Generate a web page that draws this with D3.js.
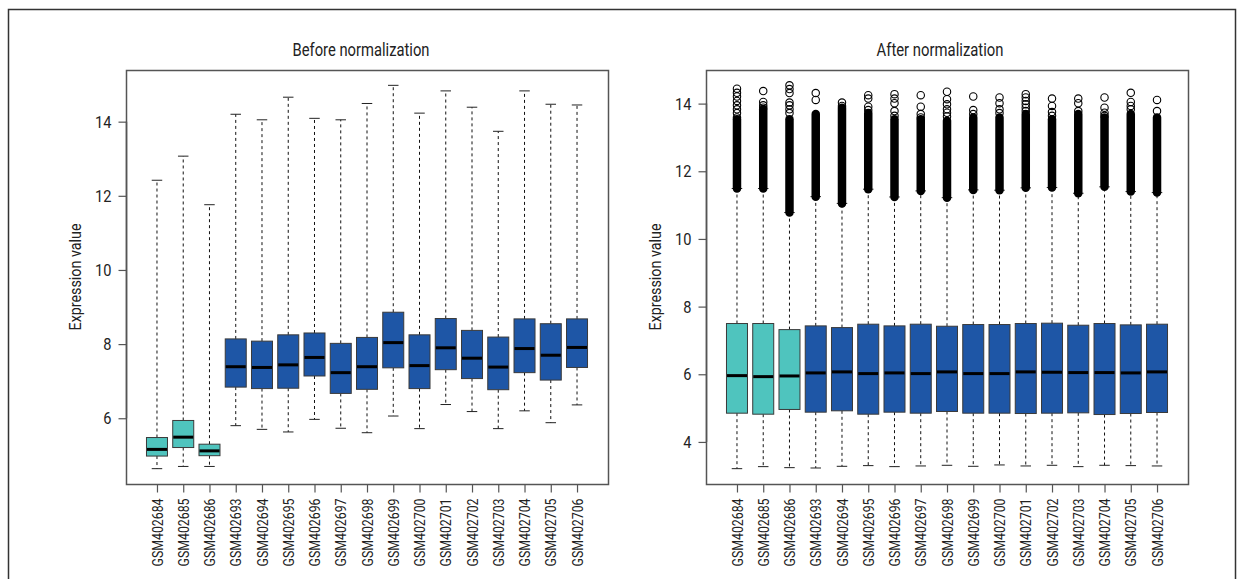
<!DOCTYPE html>
<html>
<head>
<meta charset="utf-8">
<script src="https://cdn.jsdelivr.net/npm/d3@7"></script>
<style>
  html, body { margin: 0; padding: 0; background: #fff; }
  svg { display: block; }
  text { font-family: "Roboto", "Liberation Sans", sans-serif; fill: #222; }
</style>
</head>
<body>
<svg id="chart" width="1244" height="579"></svg>
<script>
// ---------- data ----------
const samples = ["GSM402684","GSM402685","GSM402686","GSM402693","GSM402694","GSM402695","GSM402696","GSM402697","GSM402698","GSM402699","GSM402700","GSM402701","GSM402702","GSM402703","GSM402704","GSM402705","GSM402706"];
const groups = ["A","A","A","B","B","B","B","B","B","B","B","B","B","B","B","B","B"];
const yTicksBefore = [6, 8, 10, 12, 14];
const yTicksAfter = [4, 6, 8, 10, 12, 14];

// Before normalization
const beforeLower  = [4.64,4.70,4.70,5.80,5.70,5.63,5.97,5.73,5.61,6.06,5.72,6.37,6.18,5.72,6.20,5.88,6.36];
const beforeQ1     = [4.98,5.21,4.99,6.84,6.80,6.81,7.14,6.67,6.78,7.36,6.80,7.31,7.07,6.77,7.23,7.03,7.37];
const beforeMedian = [5.16,5.49,5.12,7.39,7.37,7.44,7.64,7.23,7.39,8.04,7.42,7.90,7.62,7.38,7.88,7.70,7.91];
const beforeQ3     = [5.48,5.94,5.30,8.14,8.08,8.25,8.30,8.02,8.18,8.86,8.25,8.69,8.37,8.19,8.68,8.55,8.68];
const beforeUpper  = [12.42,13.07,11.76,14.20,14.05,14.66,14.09,14.05,14.49,14.98,14.23,14.83,14.39,13.74,14.83,14.47,14.45];

// After normalization
const afterLower  = [3.21,3.27,3.24,3.23,3.28,3.30,3.27,3.29,3.31,3.28,3.32,3.29,3.31,3.27,3.31,3.30,3.29];
const afterQ1     = [4.85,4.82,4.96,4.88,4.92,4.82,4.88,4.85,4.90,4.85,4.85,4.84,4.85,4.86,4.81,4.84,4.87];
const afterMedian = [5.96,5.93,5.95,6.04,6.07,6.02,6.04,6.02,6.07,6.02,6.02,6.07,6.06,6.05,6.05,6.04,6.07];
const afterQ3     = [7.50,7.50,7.32,7.43,7.38,7.48,7.43,7.48,7.42,7.47,7.47,7.50,7.51,7.45,7.50,7.46,7.48];
const afterUpper  = [11.49,11.49,10.78,11.25,11.05,11.47,11.24,11.42,11.22,11.45,11.44,11.51,11.52,11.35,11.54,11.40,11.37];
// top of the dense (overplotted) outlier run, per sample
const afterDenseTop = [13.54,13.83,13.54,13.69,13.88,13.72,13.54,13.54,13.49,13.59,13.59,13.69,13.54,13.69,13.59,13.69,13.59];
// individually visible outliers above the dense run
const afterOutliers = [
  [14.44,14.32,14.21,14.08,13.95,13.83,13.72,13.59],
  [14.37,14.05,13.95,13.88],
  [14.54,14.43,14.31,14.03,13.95,13.83,13.72],
  [14.31,14.11],
  [14.03,13.93],
  [14.25,14.15,13.91,13.81],
  [14.28,14.15,14.01,13.78,13.64],
  [14.25,13.91,13.69,13.59],
  [14.35,14.13,13.98,13.83,13.73,13.62],
  [14.21,13.81,13.69],
  [14.18,14.01,13.83,13.72],
  [14.28,14.18,14.08,13.98,13.88,13.78],
  [14.15,13.93,13.75,13.64],
  [14.15,14.01,13.78],
  [14.18,13.88,13.73,13.64],
  [14.32,14.05,13.93,13.83],
  [14.11,13.78]
];

const colors = { A: "#4fc4be", B: "#1e56a6" };

// ---------- drawing ----------
const svg = d3.select("#chart");

// horizontally condense a text element so that it is `target` px long
function condense(node, target) {
  const w = node.getComputedTextLength();
  return w > 0 ? target / w : 1;
}

// outer frame
svg.append("rect").attr("x", 8.5).attr("y", 9.5).attr("width", 1227).attr("height", 620)
  .attr("fill", "none").attr("stroke", "#333").attr("stroke-width", 1.5);

function panel(opts) {
  const { left, top, width, height, title, lower, q1, median, q3, upper, denseTop, outliers, yTicks } = opts;
  const g = svg.append("g");
  const n = samples.length;

  const xPad = n * 0.04;
  const x = d3.scaleLinear().domain([0.5 - xPad, n + 0.5 + xPad]).range([left, left + width]);
  const allVals = lower.concat(upper);
  if (outliers) outliers.forEach(o => o.forEach(v => allVals.push(v)));
  const ext = d3.extent(allVals);
  const yPad = (ext[1] - ext[0]) * 0.04;
  const y = d3.scaleLinear().domain([ext[0] - yPad, ext[1] + yPad]).range([top + height, top]);

  const bw = x(1.8) - x(1);   // box width 0.8
  const cw = bw / 2;          // staple width

  const idx = d3.range(n);
  const items = g.selectAll("g.item").data(idx).join("g").attr("class", "item");

  // whiskers (dashed)
  items.append("line")
    .attr("x1", i => x(i + 1)).attr("x2", i => x(i + 1))
    .attr("y1", i => y(q3[i])).attr("y2", i => y(upper[i]))
    .attr("stroke", "#111").attr("stroke-width", 1).attr("stroke-dasharray", "3,3");
  items.append("line")
    .attr("x1", i => x(i + 1)).attr("x2", i => x(i + 1))
    .attr("y1", i => y(q1[i])).attr("y2", i => y(lower[i]))
    .attr("stroke", "#111").attr("stroke-width", 1).attr("stroke-dasharray", "3,3");
  // staples
  items.append("line")
    .attr("x1", i => x(i + 1) - cw / 2).attr("x2", i => x(i + 1) + cw / 2)
    .attr("y1", i => y(upper[i])).attr("y2", i => y(upper[i]))
    .attr("stroke", "#222").attr("stroke-width", 1);
  items.append("line")
    .attr("x1", i => x(i + 1) - cw / 2).attr("x2", i => x(i + 1) + cw / 2)
    .attr("y1", i => y(lower[i])).attr("y2", i => y(lower[i]))
    .attr("stroke", "#222").attr("stroke-width", 1);

  // boxes
  items.append("rect")
    .attr("x", i => x(i + 1) - bw / 2).attr("width", bw)
    .attr("y", i => y(q3[i])).attr("height", i => y(q1[i]) - y(q3[i]))
    .attr("fill", i => colors[groups[i]])
    .attr("stroke", "#3a3a3a").attr("stroke-width", 1);
  // medians
  items.append("line")
    .attr("x1", i => x(i + 1) - bw / 2 + 0.5).attr("x2", i => x(i + 1) + bw / 2 - 0.5)
    .attr("y1", i => y(median[i])).attr("y2", i => y(median[i]))
    .attr("stroke", "#000").attr("stroke-width", 3);

  // outliers
  if (denseTop) {
    items.append("line")
      .attr("x1", i => x(i + 1)).attr("x2", i => x(i + 1))
      .attr("y1", i => y(upper[i])).attr("y2", i => y(denseTop[i]))
      .attr("stroke", "#000").attr("stroke-width", 8.5).attr("stroke-linecap", "round");
    items.selectAll("circle").data(i => outliers[i].map(v => ({ i, v }))).join("circle")
      .attr("cx", d => x(d.i + 1)).attr("cy", d => y(d.v)).attr("r", 3.7)
      .attr("fill", "none").attr("stroke", "#000").attr("stroke-width", 1.1);
  }

  // plot frame
  g.append("rect").attr("x", left + 0.5).attr("y", top + 0.5).attr("width", width).attr("height", height)
    .attr("fill", "none").attr("stroke", "#555").attr("stroke-width", 1.5);

  // y axis
  const yAxis = g.append("g").attr("transform", `translate(${left + 0.5},0)`)
    .call(d3.axisLeft(y).tickValues(yTicks).tickFormat(d3.format("d")).tickSize(8).tickPadding(7));
  yAxis.select(".domain").attr("stroke", "#555").attr("stroke-width", 1.5)
    .attr("d", `M0,${y(yTicks[0])}V${y(yTicks[yTicks.length - 1])}`);
  yAxis.selectAll(".tick line").attr("stroke", "#555").attr("stroke-width", 1.2);
  yAxis.selectAll(".tick text")
    .attr("font-size", 17).attr("fill", "#222")
    .style("font-family", '"Roboto", "Liberation Sans", sans-serif')
    .attr("x", 0)
    .attr("transform", "translate(-15,0) scale(0.86,1)");

  // x axis
  const xAxis = g.append("g").attr("transform", `translate(0,${top + height + 0.5})`)
    .call(d3.axisBottom(x).tickValues(d3.range(1, n + 1)).tickFormat(i => samples[i - 1]).tickSize(8));
  xAxis.select(".domain").remove();
  xAxis.selectAll(".tick line").attr("stroke", "#555").attr("stroke-width", 1.2);
  xAxis.selectAll(".tick text")
    .attr("text-anchor", "end")
    .attr("x", 0).attr("y", 0).attr("dy", "0.36em")
    .attr("font-size", 14).attr("fill", "#222")
    .style("font-family", '"Roboto", "Liberation Sans", sans-serif')
    .each(function () {
      const s = condense(this, 68);
      d3.select(this).attr("transform", `translate(0,14) rotate(-90) scale(${s},1)`);
    });

  // y label
  g.append("text")
    .attr("text-anchor", "middle").attr("font-size", 17)
    .text("Expression value")
    .each(function () {
      const s = condense(this, 107);
      d3.select(this).attr("transform", `translate(${left - 45},${top + height / 2}) rotate(-90) scale(${s},1)`);
    });

  // title
  g.append("text")
    .attr("text-anchor", "middle").attr("font-size", 18)
    .text(title)
    .each(function () {
      const s = condense(this, opts.titleW);
      d3.select(this).attr("transform", `translate(${opts.titleX},56) scale(${s},1)`);
    });
}

panel({
  left: 126, top: 70, width: 482, height: 414, title: "Before normalization", titleX: 361, titleW: 137,
  lower: beforeLower, q1: beforeQ1, median: beforeMedian, q3: beforeQ3, upper: beforeUpper,
  yTicks: yTicksBefore
});
panel({
  left: 706, top: 70, width: 482, height: 414, title: "After normalization", titleX: 940, titleW: 127,
  lower: afterLower, q1: afterQ1, median: afterMedian, q3: afterQ3, upper: afterUpper,
  denseTop: afterDenseTop, outliers: afterOutliers,
  yTicks: yTicksAfter
});
</script>
</body>
</html>
